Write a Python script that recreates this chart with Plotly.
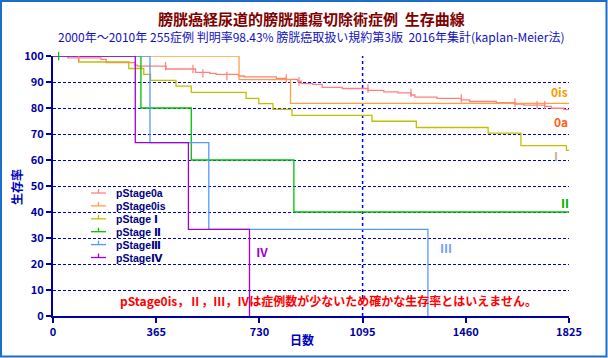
import plotly.graph_objects as go

# ---------------- data ----------------
days_0a = [0, 52, 170, 188, 290, 298, 400, 504, 554, 577, 656, 677, 790, 825, 865, 878, 918, 952,
           1023, 1114, 1170, 1220, 1266, 1280, 1358, 1444, 1474, 1568, 1634, 1666, 1739, 1763, 1807, 1825]
surv_0a = [100, 99.3, 98.7, 97.5, 96.5, 96.1, 95.0, 93.7, 93.3, 92.9, 92.3, 92.0, 91.4, 91.0, 90.3, 89.4, 89.1, 87.9,
           87.5, 86.8, 86.2, 85.8, 85.0, 84.2, 83.7, 83.1, 82.5, 82.1, 81.5, 81.1, 80.6, 79.9, 79.4, 79.4]
cens_0a_days = [91, 398, 495, 530, 615, 825, 870, 1114, 1266, 1444, 1634, 1712, 1739]
cens_0a_surv = [99.3, 96.1, 95.0, 93.3, 92.3, 91.4, 90.3, 87.5, 85.8, 83.7, 82.1, 81.1, 81.1]

days_0is = [0, 658, 840, 1825]
surv_0is = [100, 90.9, 81.8, 81.8]

days_1 = [0, 91, 268, 321, 345, 435, 489, 683, 728, 778, 845, 1128, 1285, 1539, 1655, 1816, 1825]
surv_1 = [100, 97.7, 95.2, 92.9, 90.6, 88.4, 86.0, 83.7, 81.7, 79.5, 77.2, 74.9, 72.5, 70.3, 65.5, 63.7, 63.7]

days_2 = [0, 311, 489, 852, 1825]
surv_2 = [100, 80, 60, 40, 40]
cens_2_days = [20]
cens_2_surv = [100]

days_3 = [0, 343, 551, 1326]
surv_3 = [100, 66.7, 33.3, 0]

days_4 = [0, 291, 479, 695]
surv_4 = [100, 66.7, 33.3, 0]

series_names = ["pStage0a", "pStage0is", "pStage Ⅰ", "pStage Ⅱ", "pStageⅢ", "pStageⅣ"]
end_labels = ["0a", "0is", "Ⅰ", "Ⅱ", "Ⅲ", "Ⅳ"]
x_ticks = [0, 365, 730, 1095, 1460, 1825]
y_ticks = [0, 10, 20, 30, 40, 50, 60, 70, 80, 90, 100]

title = "膀胱癌経尿道的膀胱腫瘍切除術症例  生存曲線"
subtitle = "2000年～2010年 255症例 判明率98.43% 膀胱癌取扱い規約第3版  2016年集計(kaplan-Meier法)"
note = "pStage0is，Ⅱ，Ⅲ，Ⅳは症例数が少ないため確かな生存率とはいえません。"

# ---------------- styles ----------------
colors = ["#FF8080", "#FFA040", "#C0C000", "#00C000", "#5599FF", "#A000E0"]
label_colors = ["#FF6020", "#FF9900", "#C8B488", "#00B000", "#70A0FF", "#A000D0"]
FONT = "Noto Sans CJK JP"
NAVY = "#0000A0"

W, H = 608, 358
L, R, T, B = 53, 39, 56, 42
PW, PH = W - L - R, H - T - B


def px(xp):
    return (xp - L) / PW


def py(yp):
    return (H - B - yp) / PH


fig = go.Figure()

all_days = [days_0a, days_0is, days_1, days_2, days_3, days_4]
all_surv = [surv_0a, surv_0is, surv_1, surv_2, surv_3, surv_4]
for d, s, c in zip(all_days, all_surv, colors):
    fig.add_trace(go.Scatter(x=d, y=s, mode="lines", line=dict(color=c, width=1.3, shape="hv"),
                             showlegend=False, hoverinfo="skip"))

fig.add_trace(go.Scatter(x=cens_0a_days, y=cens_0a_surv, mode="markers",
                         marker=dict(symbol="line-ns", size=6, line=dict(color=colors[0], width=1.2)),
                         showlegend=False, hoverinfo="skip"))
fig.add_trace(go.Scatter(x=cens_2_days, y=cens_2_surv, mode="markers",
                         marker=dict(symbol="line-ns", size=6, line=dict(color=colors[3], width=1.2)),
                         showlegend=False, hoverinfo="skip", cliponaxis=False))

shapes = []
annotations = []

# dotted vertical line at 1095
shapes.append(dict(type="line", xref="x", yref="y", x0=1095, x1=1095, y0=0, y1=100,
                   line=dict(color="#0000FF", width=1.5, dash="dot"), layer="below"))

# outer frame
shapes.append(dict(type="rect", xref="paper", yref="paper", x0=px(1), x1=px(606.5), y0=py(356.5), y1=py(1),
                   line=dict(color="#1E6EC8", width=2), fillcolor="rgba(0,0,0,0)"))

# manual legend
leg_top, leg_step = 193, 12.9
legend_rows = [leg_top + i * leg_step for i in range(len(series_names))]
for name, c, yr in zip(series_names, colors, legend_rows):
    shapes.append(dict(type="line", xref="paper", yref="paper", x0=px(91), x1=px(106), y0=py(yr), y1=py(yr),
                       line=dict(color=c, width=1.3)))
    shapes.append(dict(type="line", xref="paper", yref="paper", x0=px(98.5), x1=px(98.5), y0=py(yr), y1=py(yr - 4),
                       line=dict(color=c, width=1.3)))
    annotations.append(dict(text="<b>%s</b>" % name, xref="paper", yref="paper", x=px(114), y=py(yr),
                            xanchor="left", yanchor="middle", showarrow=False,
                            font=dict(family="Liberation Sans, DejaVu Sans", size=10.5, color="#000080")))

# end labels
label_pos = [(561, 121), (559, 91), (556, 155), (565, 202), (446, 247), (262, 251)]
for t, c, (xp, yp) in zip(end_labels, label_colors, label_pos):
    annotations.append(dict(text="<b>%s</b>" % t, xref="paper", yref="paper", x=px(xp), y=py(yp),
                            xanchor="center", yanchor="middle", showarrow=False,
                            font=dict(family=FONT, size=12, color=c)))

# titles
annotations.append(dict(text="<b>%s</b>" % title, xref="paper", yref="paper", x=px(311), y=py(18),
                        xanchor="center", yanchor="middle", showarrow=False,
                        font=dict(family=FONT, size=15, color="#800000")))
annotations.append(dict(text=subtitle, xref="paper", yref="paper", x=px(311), y=py(36),
                        xanchor="center", yanchor="middle", showarrow=False,
                        font=dict(family=FONT, size=12, color="#1010C0")))
annotations.append(dict(text="<b>%s</b>" % note, xref="paper", yref="paper", x=px(328), y=py(300),
                        xanchor="center", yanchor="middle", showarrow=False,
                        font=dict(family=FONT, size=12, color="#FF0000")))
annotations.append(dict(text="<b>生存率</b>", xref="paper", yref="paper", x=px(16), y=py(187),
                        xanchor="center", yanchor="middle", showarrow=False, textangle=-90,
                        font=dict(family=FONT, size=12, color="#0000C0")))
annotations.append(dict(text="<b>日数</b>", xref="paper", yref="paper", x=px(302), y=py(339),
                        xanchor="center", yanchor="middle", showarrow=False,
                        font=dict(family=FONT, size=12, color="#0000C0")))

fig.update_layout(
    width=W, height=H,
    margin=dict(l=L, r=R, t=T, b=B, pad=0),
    paper_bgcolor="white", plot_bgcolor="white",
    showlegend=False,
    shapes=shapes, annotations=annotations,
    xaxis=dict(range=[0, 1825], tickvals=x_ticks, ticktext=["<b>%d</b>" % v for v in x_ticks],
               showgrid=False, zeroline=False, showline=True, linecolor=NAVY, linewidth=2,
               ticks="outside", ticklen=5, tickcolor=NAVY, tickwidth=1.5,
               tickfont=dict(family=FONT, size=11, color=NAVY)),
    yaxis=dict(range=[0, 100], tickvals=y_ticks, ticktext=["<b>%d</b>" % v for v in y_ticks],
               showgrid=True, gridcolor="#0000C0", griddash="3px,2px", gridwidth=1.2,
               zeroline=False, showline=True, linecolor=NAVY, linewidth=2,
               ticks="outside", ticklen=5, tickcolor=NAVY, tickwidth=1.5,
               tickfont=dict(family=FONT, size=11, color=NAVY)),
)

fig.write_html("out.html", config={"displayModeBar": False},
               post_script="document.body.style.margin='0';")
